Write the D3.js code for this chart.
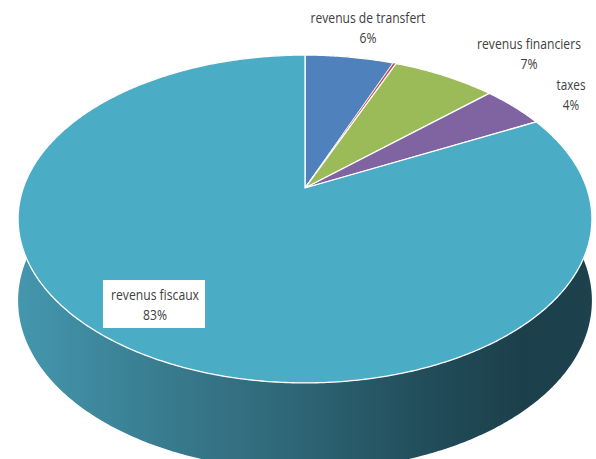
<!DOCTYPE html>
<html>
<head>
<meta charset="utf-8">
<script src="https://cdn.jsdelivr.net/npm/d3@7"></script>
<style>
  html, body { margin: 0; padding: 0; background: #ffffff; }
  svg { display: block; }
  text { font-family: "Open Sans", "Liberation Sans", sans-serif; fill: #404040; }
</style>
</head>
<body>
<div id="chart"></div>
<script>
// ---- data ----
const categories = ["revenus de transfert", "autres", "revenus financiers", "taxes", "revenus fiscaux"];
const values = [6.0, 0.2, 7.0, 4.3, 82.5];
const colors = ["#4F81BD", "#C0504D", "#9BBB59", "#8064A2", "#4BACC6"];

// ---- layout ----
const W = 596, H = 459;
const cx = 305, cy = 188;           // projected pie centre
const f = 1234, D = 4.38;           // perspective
const tilt = Math.asin(0.561);
const sT = Math.sin(tilt), cT = Math.cos(tilt);
const thick = 0.36;                  // wall height (radius units)

// label layout: centre x, first baseline y, first-line width, boxed
const labelLayout = {
  "revenus de transfert": { x: 368, y: 23, w: 115, boxed: false },
  "revenus financiers":   { x: 529, y: 49, w: 104, boxed: false },
  "taxes":                { x: 571, y: 90, w: 29,  boxed: false },
  "revenus fiscaux":      { x: 155, y: 300, w: 88, boxed: true }
};

const svg = d3.select("#chart").append("svg")
  .attr("width", W).attr("height", H)
  .attr("viewBox", `0 0 ${W} ${H}`);

const total = d3.sum(values);
const data = categories.map((c, i) => ({ name: c, value: values[i], color: colors[i] }));
const pie = d3.pie().value(d => d.value).sort(null).startAngle(0).endAngle(2 * Math.PI);
const arcs = pie(data);

function proj(theta, r, h) {
  const X = r * Math.sin(theta), Z = r * Math.cos(theta), Y = h;
  const yc = Y * cT + Z * sT;
  const zc = D + Z * cT - Y * sT;
  return [cx + f * X / zc, cy - f * yc / zc];
}
// wall bottom: same x as the top rim, y from the lowered rim
function projBottom(theta) {
  const top = proj(theta, 1, 0);
  const low = proj(theta, 1, -thick);
  return [top[0], low[1]];
}
function arcPoints(a0, a1, bottom) {
  const n = Math.max(2, Math.ceil((a1 - a0) / 0.01));
  return d3.range(n + 1).map(k => {
    const t = a0 + (a1 - a0) * k / n;
    return bottom ? projBottom(t) : proj(t, 1, 0);
  });
}
const line = d3.line();

// gradient for the wall
const defs = svg.append("defs");
const grad = defs.append("linearGradient").attr("id", "wallGrad")
  .attr("gradientUnits", "userSpaceOnUse")
  .attr("x1", 18).attr("y1", 0).attr("x2", 592).attr("y2", 0);
[["0%", "#4497ae"], ["22%", "#3a7f93"], ["48%", "#2e6676"], ["72%", "#214c59"], ["88%", "#1c404b"], ["100%", "#1d424d"]]
  .forEach(([o, c]) => grad.append("stop").attr("offset", o).attr("stop-color", c));

// walls
const walls = svg.append("g");
arcs.forEach(a => {
  const top = arcPoints(a.startAngle, a.endAngle, false);
  const bot = arcPoints(a.startAngle, a.endAngle, true).reverse();
  walls.append("path")
    .attr("d", line(top.concat(bot)) + "Z")
    .attr("fill", a.data.name === "revenus fiscaux" ? "url(#wallGrad)" : d3.color(a.data.color).darker(1.2))
    .attr("stroke", "none");
});

// top faces
const tops = svg.append("g");
arcs.forEach(a => {
  const pts = [proj(0, 0, 0)].concat(arcPoints(a.startAngle, a.endAngle, false));
  tops.append("path")
    .attr("d", line(pts) + "Z")
    .attr("fill", a.data.color)
    .attr("stroke", "#ffffff")
    .attr("stroke-width", a.data.name === "autres" ? 0.6 : 1.3)
    .attr("stroke-linejoin", "round");
});

// labels (horizontally condensed to match the reference lettering)
const labels = svg.append("g");
arcs.forEach(a => {
  const L = labelLayout[a.data.name];
  if (!L) return;
  const pct = Math.round(a.data.value * 100 / total) + "%";
  if (L.boxed) {
    labels.append("rect")
      .attr("x", L.x - 52).attr("y", L.y - 20)
      .attr("width", 102).attr("height", 48)
      .attr("fill", "#ffffff");
  }
  const g = labels.append("g");
  const t1 = g.append("text")
    .attr("x", 0).attr("y", 0)
    .attr("text-anchor", "middle")
    .attr("font-size", 15)
    .text(a.data.name);
  g.append("text")
    .attr("x", 0).attr("y", 20)
    .attr("text-anchor", "middle")
    .attr("font-size", 15)
    .text(pct);
  const natural = t1.node().getComputedTextLength() || L.w;
  const sx = L.w / natural;
  g.attr("transform", `translate(${L.x},${L.y}) scale(${sx},1)`);
});
</script>
</body>
</html>
